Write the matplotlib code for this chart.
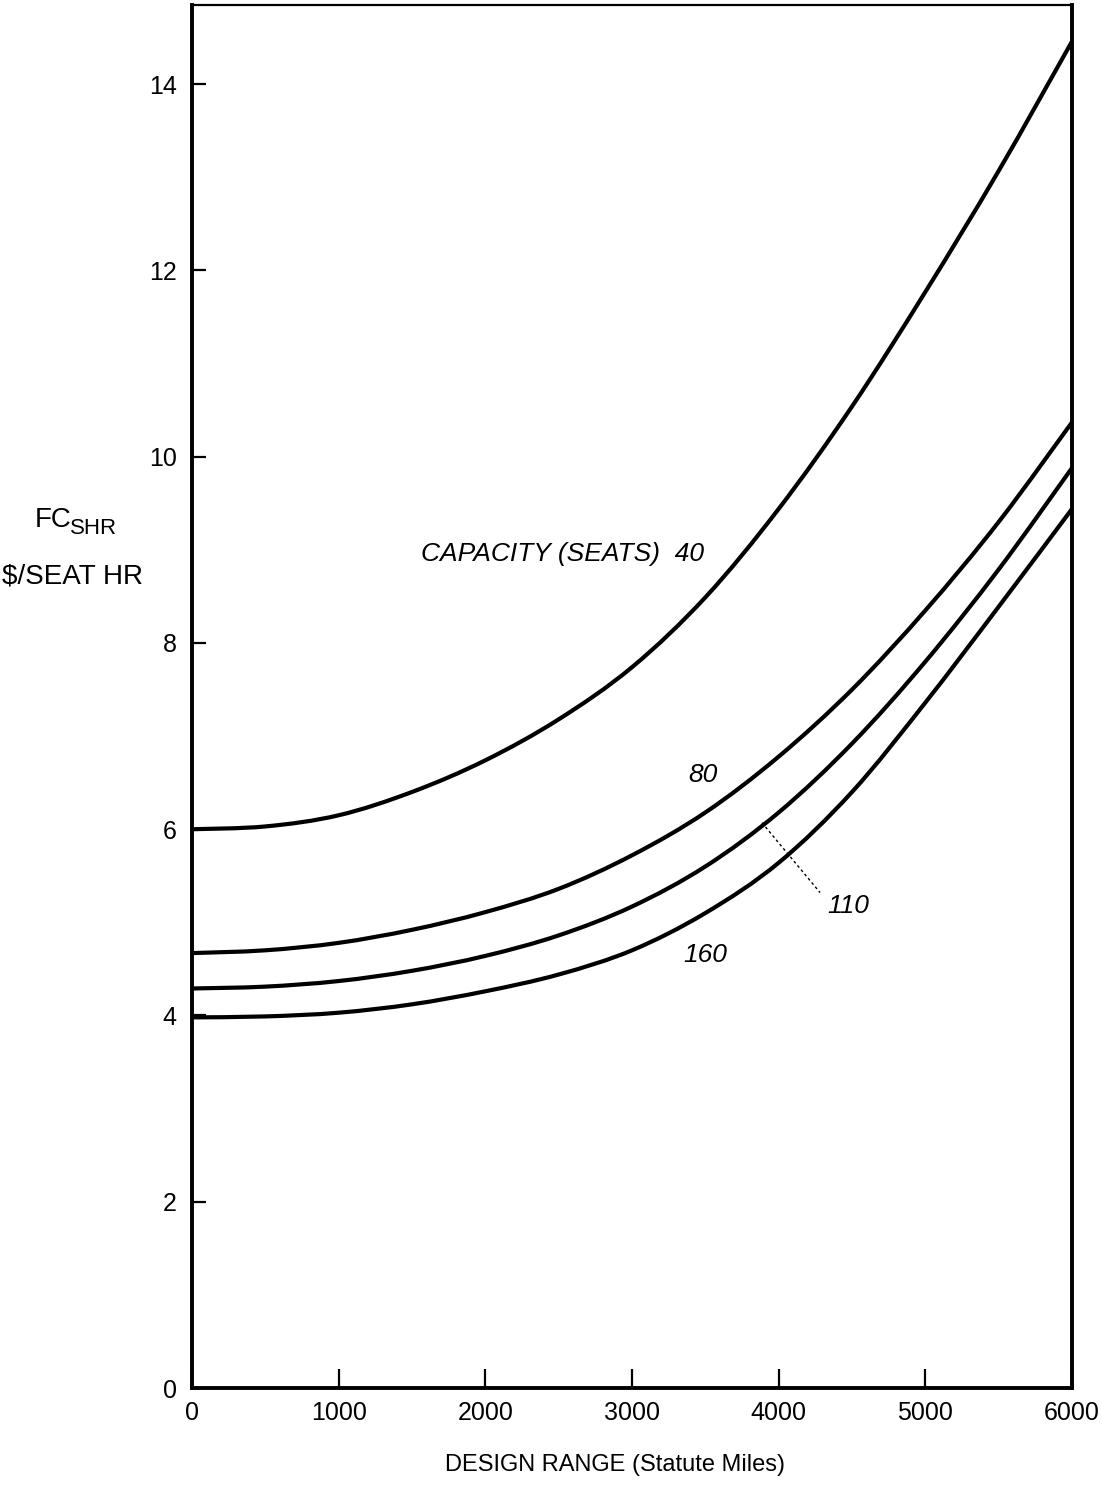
import numpy as np
import matplotlib
matplotlib.use("Agg")
import matplotlib.pyplot as plt
from matplotlib.path import Path
from matplotlib.patches import PathPatch

plt.rcParams['font.family'] = ['Liberation Sans', 'DejaVu Sans']

# design range, statute miles
design_range = [0, 500, 1000, 1500, 2000, 2500, 3000, 3500, 4000, 4500, 5000, 5500, 6000]

# FC_SHR ($/seat hr), one list per capacity
fc_40 = [6.00, 6.03, 6.15, 6.40, 6.74, 7.18, 7.74, 8.49, 9.44, 10.54, 11.77, 13.07, 14.46]
fc_80 = [4.67, 4.70, 4.78, 4.92, 5.11, 5.36, 5.72, 6.18, 6.78, 7.50, 8.35, 9.30, 10.37]
fc_110 = [4.29, 4.31, 4.37, 4.48, 4.64, 4.86, 5.17, 5.60, 6.18, 6.92, 7.80, 8.79, 9.88]
fc_160 = [3.98, 3.99, 4.03, 4.12, 4.26, 4.44, 4.70, 5.10, 5.64, 6.40, 7.36, 8.39, 9.44]

xticks = [0, 1000, 2000, 3000, 4000, 5000, 6000]
yticks = [0, 2, 4, 6, 8, 10, 12, 14]


def smooth_path(x, y):
    # Catmull-Rom through the points, drawn as cubic bezier segments
    x = np.asarray(x, float)
    y = np.asarray(y, float)
    verts = [(x[0], y[0])]
    codes = [Path.MOVETO]
    n = len(x)
    for i in range(n - 1):
        x0, y0 = (x[i - 1], y[i - 1]) if i > 0 else (x[i], y[i])
        x3, y3 = (x[i + 2], y[i + 2]) if i + 2 < n else (x[i + 1], y[i + 1])
        c1 = (x[i] + (x[i + 1] - x0) / 6, y[i] + (y[i + 1] - y0) / 6)
        c2 = (x[i + 1] - (x3 - x[i]) / 6, y[i + 1] - (y3 - y[i]) / 6)
        verts += [c1, c2, (x[i + 1], y[i + 1])]
        codes += [Path.CURVE4] * 3
    return Path(verts, codes)


fig = plt.figure(figsize=(11.02, 14.88), dpi=100)
ax = fig.add_axes([0.1742, 0.0672, 0.7986, 0.9294])

for fc in (fc_40, fc_80, fc_110, fc_160):
    ax.add_patch(PathPatch(smooth_path(design_range, fc), fill=False,
                           edgecolor='black', lw=3.0, capstyle='butt'))

ax.set_xlim(0, 6000)
ax.set_ylim(0, 14.85)
ax.set_xticks(xticks)
ax.set_yticks(yticks)
ax.set_xticklabels([str(t) for t in xticks], fontsize=18)
ax.set_yticklabels([str(t) for t in yticks], fontsize=18)
ax.tick_params(axis='x', direction='in', length=14, width=1.6, pad=9)
ax.tick_params(axis='y', direction='in', length=10, width=1.6, pad=11)

for side in ('left', 'right', 'bottom'):
    ax.spines[side].set_linewidth(2.8)
ax.spines['top'].set_linewidth(1.6)

# curve labels
ax.text(2523, 8.96, 'CAPACITY (SEATS)  40', style='italic', fontsize=19,
        ha='center', va='center')
ax.text(3484, 6.58, '80', style='italic', fontsize=19, ha='center', va='center')
ax.text(4473, 5.18, '110', style='italic', fontsize=19, ha='center', va='center')
ax.text(3498, 4.65, '160', style='italic', fontsize=19, ha='center', va='center')
ax.plot([3886, 4282], [6.07, 5.32], color='black', lw=1.0, ls=(0, (2, 2)))

# axis titles
fig.text(35 / 1102, 1 - 520 / 1488, 'FC', fontsize=20, ha='left', va='center')
fig.text(70 / 1102, 1 - 528 / 1488, 'SHR', fontsize=16, ha='left', va='center')
fig.text(2 / 1102, 1 - 576 / 1488, '$/SEAT HR', fontsize=20, ha='left', va='center')
fig.text(615 / 1102, 1 - 1465 / 1488, 'DESIGN RANGE (Statute Miles)',
         fontsize=17, ha='center', va='center')

fig.savefig('out.png', dpi=100)
